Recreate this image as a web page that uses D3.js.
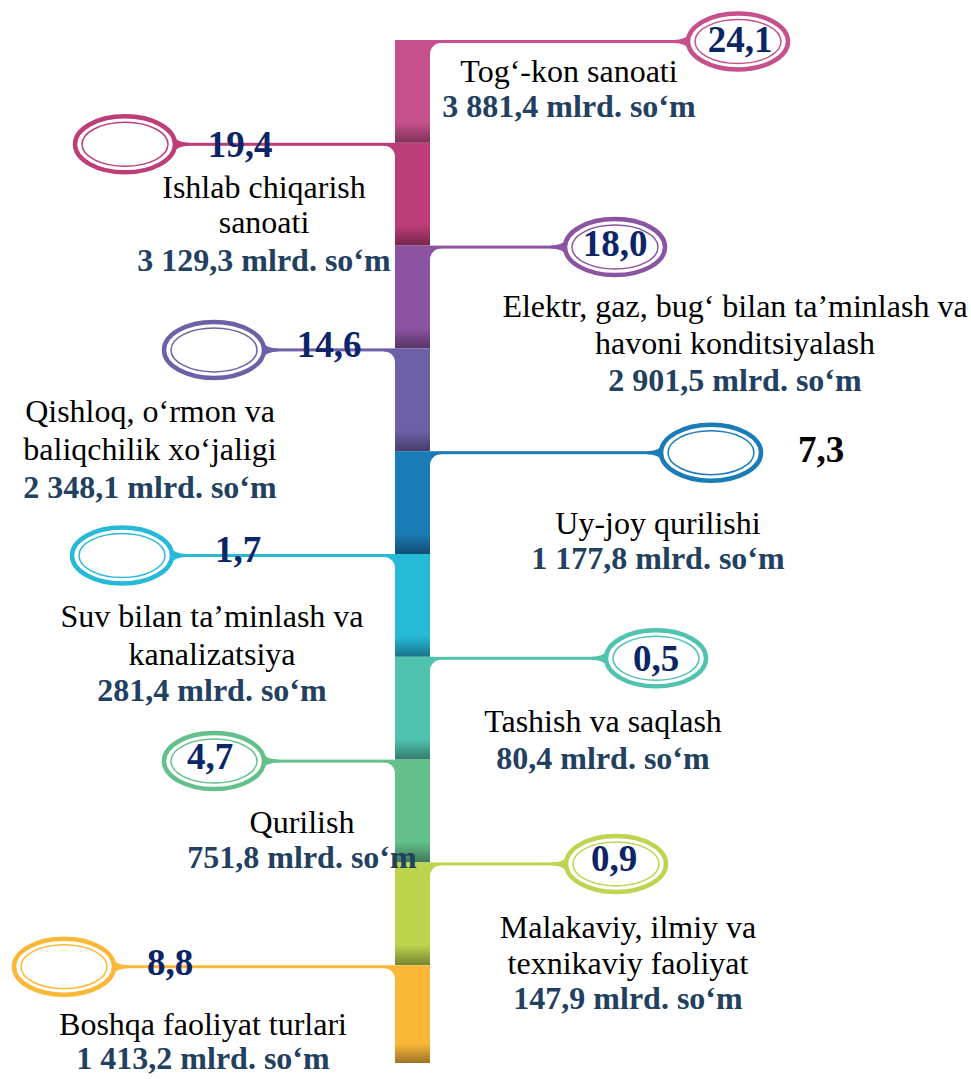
<!DOCTYPE html>
<html>
<head>
<meta charset="utf-8">
<script src="https://cdn.jsdelivr.net/npm/d3@7"></script>
<style>
  body { margin: 0; background: #fff; }
  svg { display: block; font-family: "Liberation Serif", "Times New Roman", serif; }
</style>
</head>
<body>
<div id="chart-div"></div>
<script>
// Chart globals
const CHART_WIDTH = 971
const CHART_HEIGHT = 1079

// data
const categories = [
  ["Tog‘-kon sanoati"],
  ["Ishlab chiqarish", "sanoati"],
  ["Elektr, gaz, bug‘ bilan ta’minlash va", "havoni konditsiyalash"],
  ["Qishloq, o‘rmon va", "baliqchilik xo‘jaligi"],
  ["Uy-joy qurilishi"],
  ["Suv bilan ta’minlash va", "kanalizatsiya"],
  ["Tashish va saqlash"],
  ["Qurilish"],
  ["Malakaviy, ilmiy va", "texnikaviy faoliyat"],
  ["Boshqa faoliyat turlari"]
]
const shares = [24.1, 19.4, 18.0, 14.6, 7.3, 1.7, 0.5, 4.7, 0.9, 8.8]
const amounts = [3881.4, 3129.3, 2901.5, 2348.1, 1177.8, 281.4, 80.4, 751.8, 147.9, 1413.2]
const unit = "mlrd. so‘m"

// colours of the segments
const colors = ["#c6508b", "#bd3d78", "#8c53a2", "#6e60a7", "#1a7cb6",
                "#26b9d8", "#50c3ae", "#63c08a", "#bcd44e", "#fbb838"]

// layout of each callout: side, oval centre, number x, label centre, label baselines
const layout = [
  { side: "r", ovalX: 738, numX: 740, numDy: 12, labelX: 569, labelDy: [42, 77] },
  { side: "l", ovalX: 125, numX: 240, numDy: 14, labelX: 264, labelDy: [55, 90, 128] },
  { side: "r", ovalX: 615, numX: 615, numDy: 10, labelX: 735, labelDy: [71, 108, 145] },
  { side: "l", ovalX: 214, numX: 329, numDy: 9,  labelX: 150, labelDy: [74, 112, 150] },
  { side: "r", ovalX: 711, numX: 821, numDy: 11, labelX: 658, labelDy: [83, 118], numBlack: true },
  { side: "l", ovalX: 122, numX: 238, numDy: 8,  labelX: 212, labelDy: [73, 111, 147] },
  { side: "r", ovalX: 656, numX: 656, numDy: 14, labelX: 603, labelDy: [75, 112] },
  { side: "l", ovalX: 214, numX: 210, numDy: 9,  labelX: 302, labelDy: [73, 108] },
  { side: "r", ovalX: 616, numX: 614, numDy: 9,  labelX: 628, labelDy: [76, 112, 147] },
  { side: "l", ovalX: 64,  numX: 170, numDy: 10, labelX: 203, labelDy: [70, 104] }
]

const fmt = d3.formatLocale({ decimal: ",", thousands: " ", grouping: [3], currency: ["", ""] })
const fmtAmount = fmt.format(",.1f")
const fmtShare = fmt.format(".1f")

init();

function init () {
  const svg = d3.select("#chart-div").append("svg")
    .attr("width", CHART_WIDTH)
    .attr("height", CHART_HEIGHT)
    .attr("id", "timeline")

  drawChart(svg);
}

function drawChart (svg) {
  const barLeft = 395;
  const barRight = 430;
  const barBottom = 1063;
  const lineW = 3;
  const fillet = 11;
  const rx = 50, ry = 28;

  const idx = d3.range(categories.length);
  const y = d3.scaleBand()
    .domain(idx)
    .range([40, 1068]);

  // gradients: flat colour that darkens at the bottom of each segment
  const defs = svg.append("defs");
  idx.forEach(i => {
    const g = defs.append("linearGradient")
      .attr("id", "seg" + i)
      .attr("x1", 0).attr("y1", 0).attr("x2", 0).attr("y2", 1);
    g.append("stop").attr("offset", "0%").attr("stop-color", colors[i]);
    g.append("stop").attr("offset", "80%").attr("stop-color", colors[i]);
    g.append("stop").attr("offset", "100%").attr("stop-color", d3.color(colors[i]).darker(1.3));
  });

  // bar segments
  svg.append("g").selectAll("rect")
    .data(idx)
    .join("rect")
      .attr("x", barLeft)
      .attr("y", i => y(i))
      .attr("width", barRight - barLeft)
      .attr("height", i => Math.min(y.bandwidth(), barBottom - y(i)))
      .attr("fill", i => "url(#seg" + i + ")");

  const callouts = svg.append("g").selectAll("g")
    .data(idx)
    .join("g");

  // connector line
  callouts.append("rect")
    .attr("x", i => layout[i].side === "r" ? barRight : layout[i].ovalX + rx)
    .attr("y", i => y(i))
    .attr("width", i => layout[i].side === "r" ? layout[i].ovalX - rx - barRight : barLeft - layout[i].ovalX - rx)
    .attr("height", lineW)
    .attr("fill", i => colors[i]);

  // rounded fillet where the line meets the bar
  callouts.append("path")
    .attr("fill", i => colors[i])
    .attr("d", i => {
      const t = y(i) + lineW;
      if (layout[i].side === "r") {
        return `M${barRight},${t - 1} L${barRight + fillet},${t - 1} L${barRight + fillet},${t} A${fillet},${fillet} 0 0 0 ${barRight},${t + fillet} Z`;
      }
      return `M${barLeft},${t - 1} L${barLeft - fillet},${t - 1} L${barLeft - fillet},${t} A${fillet},${fillet} 0 0 1 ${barLeft},${t + fillet} Z`;
    });

  // flare into the oval
  callouts.append("path")
    .attr("fill", i => colors[i])
    .attr("d", i => {
      const c = y(i) + lineW / 2;
      if (layout[i].side === "r") {
        const ex = layout[i].ovalX - rx + 2;
        return `M${ex - 16},${c - 1.5} Q${ex - 5},${c - 1.5} ${ex},${c - 8} L${ex},${c + 8} Q${ex - 5},${c + 1.5} ${ex - 16},${c + 1.5} Z`;
      }
      const ex = layout[i].ovalX + rx - 2;
      return `M${ex + 16},${c - 1.5} Q${ex + 5},${c - 1.5} ${ex},${c - 8} L${ex},${c + 8} Q${ex + 5},${c + 1.5} ${ex + 16},${c + 1.5} Z`;
    });

  // double-ring ovals
  callouts.append("ellipse")
    .attr("cx", i => layout[i].ovalX)
    .attr("cy", i => y(i) + lineW / 2)
    .attr("rx", rx)
    .attr("ry", ry)
    .attr("fill", "#fff")
    .attr("stroke", i => colors[i])
    .attr("stroke-width", 4.5);

  callouts.append("ellipse")
    .attr("cx", i => layout[i].ovalX)
    .attr("cy", i => y(i) + lineW / 2)
    .attr("rx", rx - 7)
    .attr("ry", ry - 6)
    .attr("fill", "none")
    .attr("stroke", i => colors[i])
    .attr("stroke-width", 1.5);

  // share numbers
  callouts.append("text")
    .attr("x", i => layout[i].numX)
    .attr("y", i => y(i) + layout[i].numDy)
    .attr("text-anchor", "middle")
    .attr("font-size", 37)
    .attr("font-weight", "bold")
    .attr("fill", i => layout[i].numBlack ? "#000" : "#0c2566")
    .text(i => fmtShare(shares[i]));

  // category names and amounts
  callouts.each(function (i) {
    const g = d3.select(this);
    const L = layout[i];
    categories[i].forEach((line, k) => {
      g.append("text")
        .attr("x", L.labelX)
        .attr("y", y(i) + L.labelDy[k])
        .attr("text-anchor", "middle")
        .attr("font-size", 32)
        .attr("fill", "#000")
        .text(line);
    });
    g.append("text")
      .attr("x", L.labelX)
      .attr("y", y(i) + L.labelDy[categories[i].length])
      .attr("text-anchor", "middle")
      .attr("font-size", 32)
      .attr("font-weight", "bold")
      .attr("fill", "#22405f")
      .text(fmtAmount(amounts[i]) + " " + unit);
  });
}
</script>
</body>
</html>
